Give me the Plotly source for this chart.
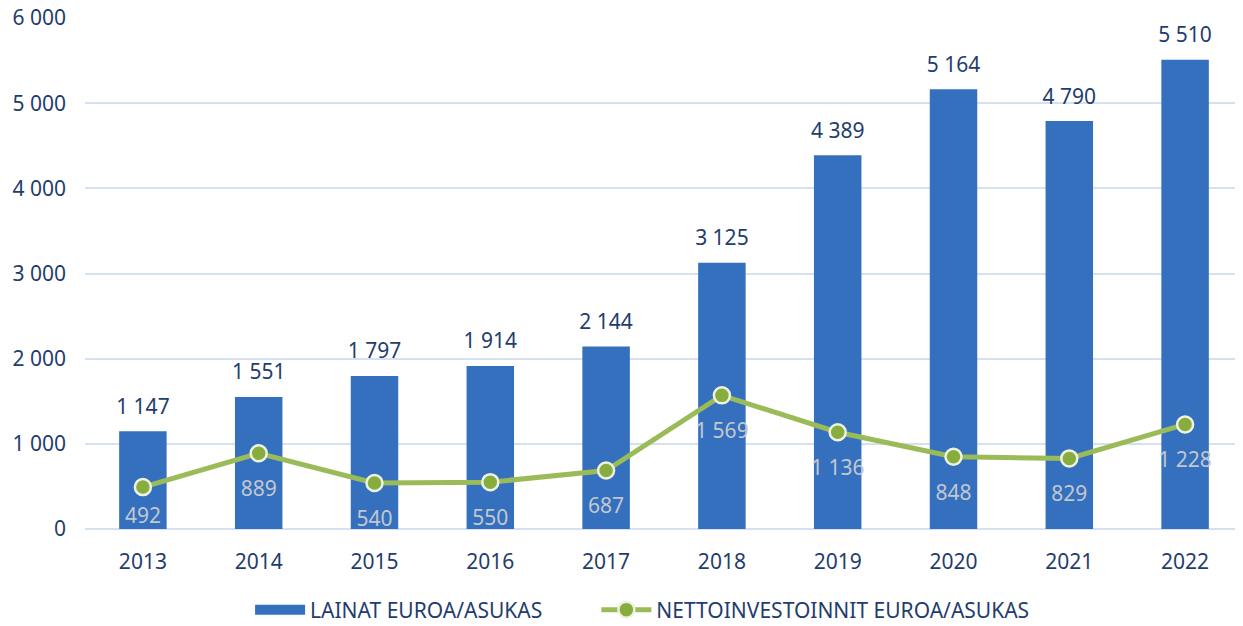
import plotly.graph_objects as go

years = ["2013", "2014", "2015", "2016", "2017", "2018", "2019", "2020", "2021", "2022"]
lainat = [1147, 1551, 1797, 1914, 2144, 3125, 4389, 5164, 4790, 5510]
netto = [492, 889, 540, 550, 687, 1569, 1136, 848, 829, 1228]
y_ticks = [0, 1000, 2000, 3000, 4000, 5000, 6000]


def fi(v):
    # finnish style thousands separator (space)
    return f"{v:,}".replace(",", " ")


dark = "#1f3d6e"
bar_col = "#3470be"

fig = go.Figure()
fig.add_trace(go.Bar(
    x=years, y=lainat,
    name="LAINAT EUROA/ASUKAS",
    marker=dict(color=bar_col, line=dict(width=0)),
    width=0.41,
    showlegend=False,
))
# legend entry for the bars: wide flat block like the original
fig.add_trace(go.Scatter(
    x=[None], y=[None],
    name="LAINAT EUROA/ASUKAS         ",
    mode="lines",
    line=dict(color=bar_col, width=13),
))
# bar value labels, a bit above the bars
fig.add_trace(go.Scatter(
    x=years, y=lainat,
    mode="markers+text",
    marker=dict(size=18, opacity=0),
    text=[fi(v) for v in lainat],
    textposition="top center",
    textfont=dict(color=dark, size=21),
    showlegend=False, hoverinfo="skip", cliponaxis=False,
))
fig.add_trace(go.Scatter(
    x=years, y=netto,
    name="NETTOINVESTOINNIT EUROA/ASUKAS",
    mode="lines+markers",
    line=dict(color="#9bbb59", width=5),
    marker=dict(color="#87ad3f", size=16, line=dict(color="#eef2e0", width=2.5)),
))
# line value labels below the points (first one kept above the axis)
fig.add_trace(go.Scatter(
    x=years, y=netto,
    mode="markers+text",
    marker=dict(size=[30] + [42] * (len(netto) - 1), opacity=0),
    text=[fi(v) for v in netto],
    textposition="bottom center",
    textfont=dict(color="#c3c7cf", size=21),
    showlegend=False, hoverinfo="skip", cliponaxis=False,
))

fig.update_layout(
    width=1235, height=626,
    margin=dict(l=77, r=0, t=10, b=105),
    plot_bgcolor="white", paper_bgcolor="white",
    font=dict(family="Noto Sans", color=dark, size=21),
    showlegend=True,
    legend=dict(orientation="h", x=0.4815, xanchor="center", y=-0.1585, yanchor="middle",
                font=dict(size=21), traceorder="normal", itemwidth=50),
    bargap=0.59,
    xaxis=dict(range=[-0.5, 9.5], showgrid=False, showline=False, ticks="",
               tickfont=dict(size=21), ticklabelstandoff=18, automargin=False),
    yaxis=dict(range=[0, 6000], tickvals=y_ticks, ticktext=[fi(v) for v in y_ticks],
               showgrid=True, gridcolor="#d6e1f0", gridwidth=2, zeroline=True,
               zerolinecolor="#d6e1f0", zerolinewidth=2, tickfont=dict(size=21),
               ticklabelstandoff=18, ticklabeloverflow="allow", automargin=False),
)

fig.write_html("out.html")
